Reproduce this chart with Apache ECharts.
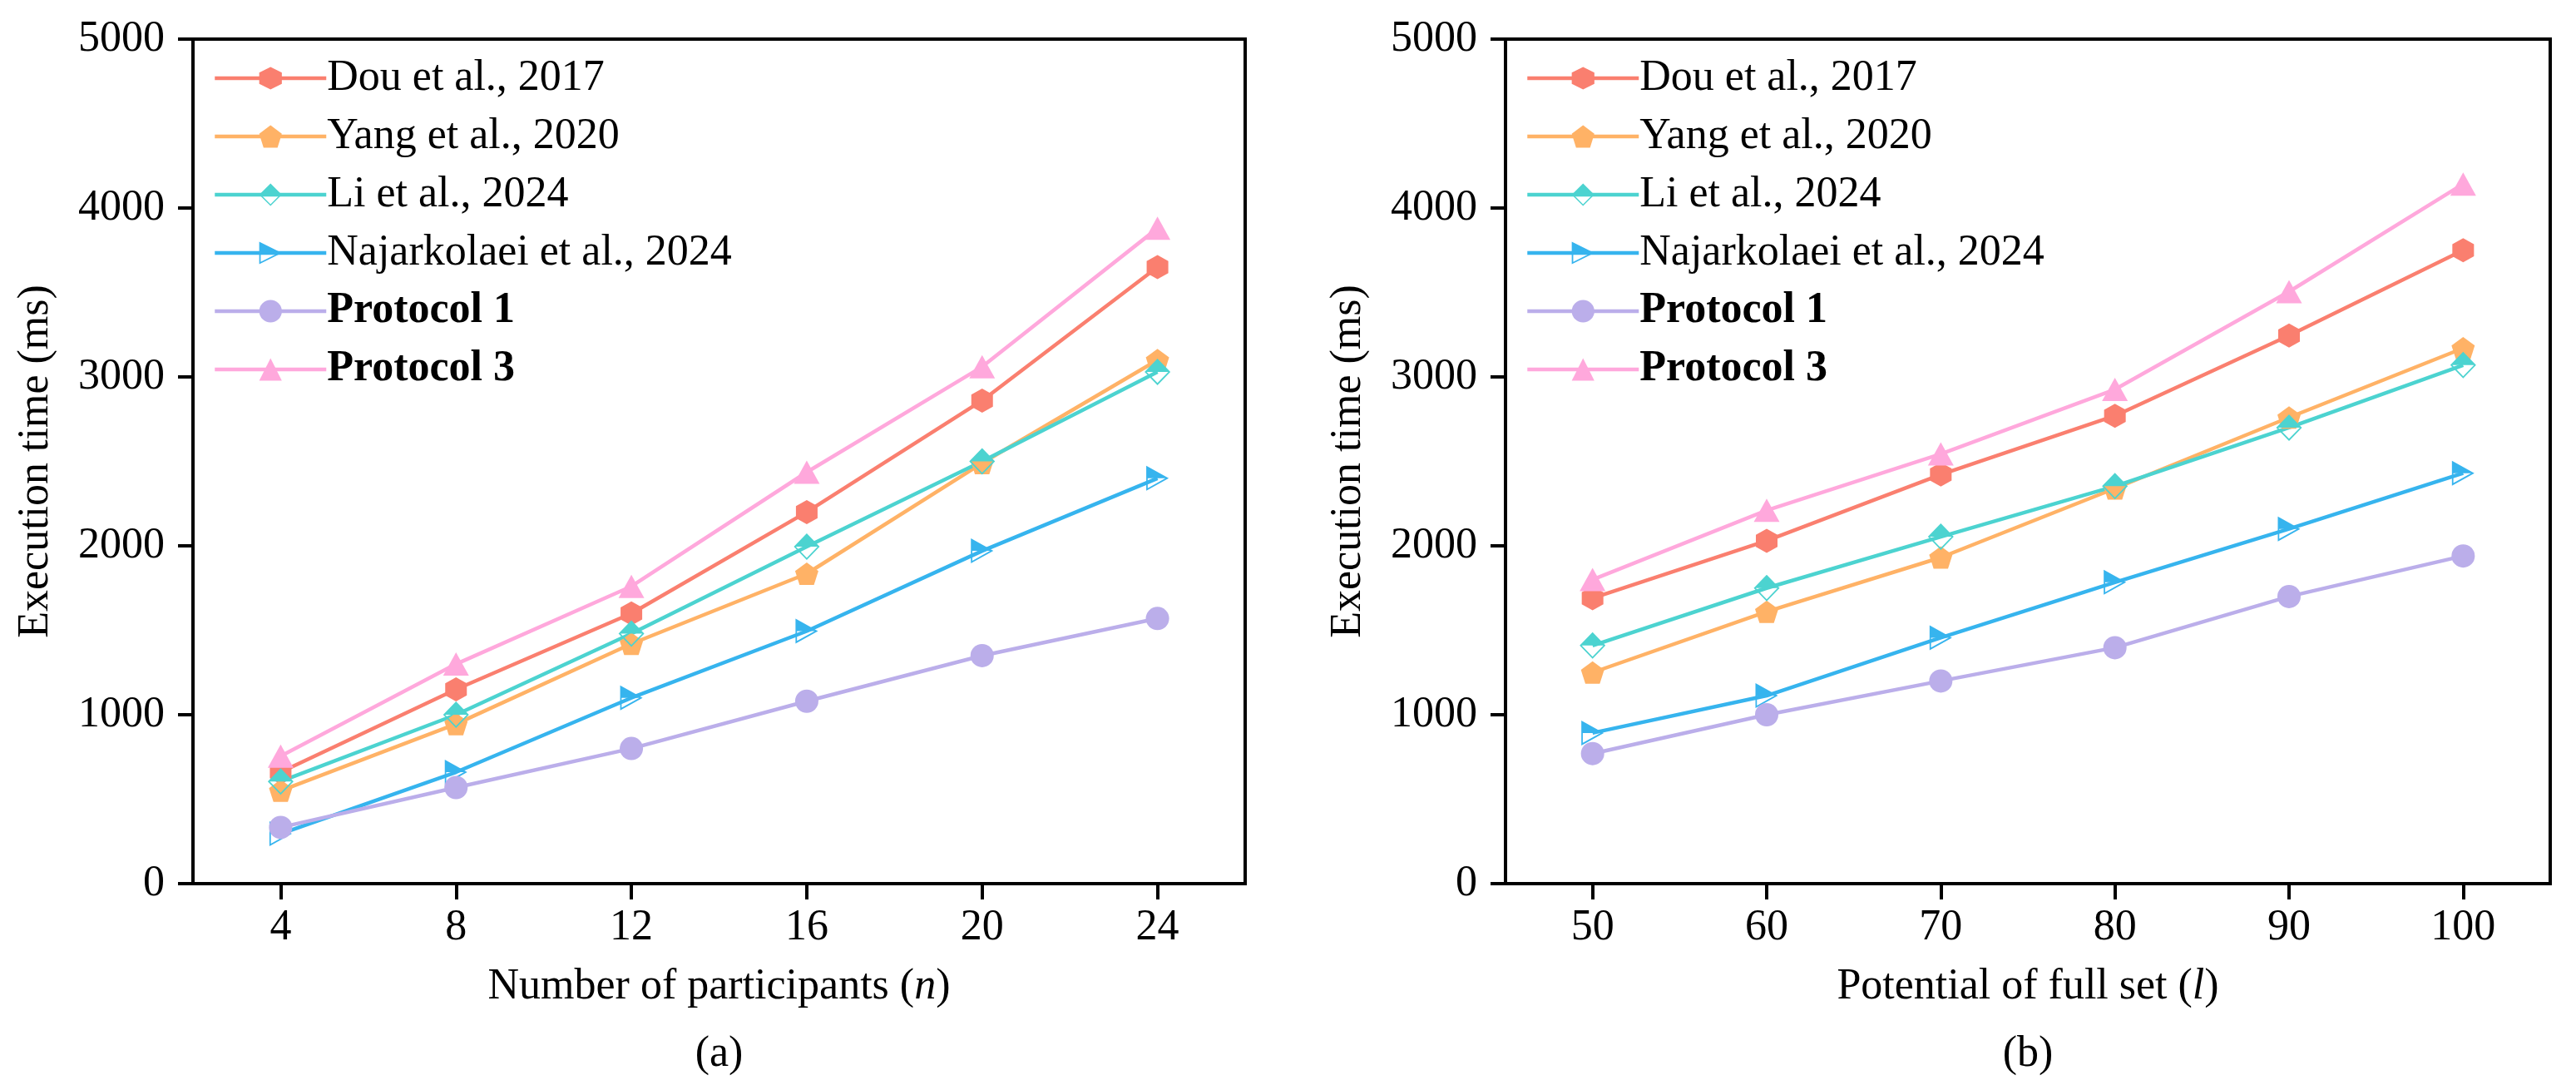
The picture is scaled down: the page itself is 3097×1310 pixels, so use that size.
<!DOCTYPE html>
<html>
<head>
<meta charset="utf-8">
<script src="https://cdn.jsdelivr.net/npm/echarts@6/dist/echarts.min.js"></script>
<style>
html,body{margin:0;padding:0;background:#fff;}
#chart{width:3097px;height:1310px;}
</style>
</head>
<body>
<div id="chart"></div>
<script>
// ---- data ----
const seriesNames = ['Dou et al., 2017', 'Yang et al., 2020', 'Li et al., 2024', 'Najarkolaei et al., 2024', 'Protocol 1', 'Protocol 3'];
const participants = [4, 8, 12, 16, 20, 24];
const dou_a  = [660, 1150, 1600, 2200, 2860, 3650];
const yang_a = [550, 945, 1420, 1835, 2490, 3100];
const li_a   = [605, 1000, 1480, 1995, 2500, 3030];
const naj_a  = [295, 660, 1100, 1495, 1970, 2400];
const p1_a   = [333, 569, 800, 1080, 1350, 1570];
const p3_a   = [755, 1300, 1760, 2436, 3060, 3880];

const fullSet = [50, 60, 70, 80, 90, 100];
const dou_b  = [1690, 2030, 2422, 2770, 3245, 3750];
const yang_b = [1250, 1610, 1931, 2340, 2760, 3170];
const li_b   = [1410, 1750, 2054, 2353, 2700, 3070];
const naj_b  = [892, 1113, 1456, 1784, 2100, 2430];
const p1_b   = [770, 1000, 1200, 1397, 1700, 1940];
const p3_b   = [1800, 2210, 2544, 2926, 3505, 4142];

const yTicks = [0, 1000, 2000, 3000, 4000, 5000];

// ---- styles ----
const FONT = "'Liberation Serif', 'Times New Roman', serif";
const FS = 52;
const colors = ['#FA7F6F', '#FFB266', '#4CD3D0', '#36B4EE', '#BBAEEA', '#FFA8DC'];
const symbols = [
  'path://M0,-1L0.866,-0.5L0.866,0.5L0,1L-0.866,0.5L-0.866,-0.5Z',
  'path://M0,-1L0.951,-0.309L0.588,0.809L-0.588,0.809L-0.951,-0.309Z',
  'path://M0,-1L1,0L0,1L-1,0Z M-0.84,0L0,0.84L0.84,0Z',
  'path://M-1,-1L1,0L-1,1Z M-0.87,0L-0.87,0.79L0.709,0Z',
  'circle',
  'triangle'
];
const symbolSizes = [[26, 29], [28, 27], [31, 32], [27, 30], 28, [31, 28]];
const liFillSymbol = 'path://M0,-1L0,-1Z M-1,0L-1,0Z M1,0L1,0Z M0,1L0,1Z M-0.84,0L0,0.84L0.84,0Z';
const najFillSymbol = 'path://M-1,-1L-1,-1Z M1,0L1,0Z M-1,1L-1,1Z M-0.87,0L-0.87,0.79L0.709,0Z';

const panels = [
  { xs: participants, sets: [dou_a, yang_a, li_a, naj_a, p1_a, p3_a], min: 2, max: 26,
    name: 'Number of participants ({i|n})', tag: '(a)' },
  { xs: fullSet, sets: [dou_b, yang_b, li_b, naj_b, p1_b, p3_b], min: 45, max: 105,
    name: 'Potential of full set ({i|l})', tag: '(b)' }
];
const grids = [
  { left: 232, top: 47, width: 1265, height: 1015 },
  { left: 1810, top: 47, width: 1256, height: 1015 }
];

const axisLineStyle = { color: '#000', width: 4 };
const labelStyle = { fontFamily: FONT, fontSize: FS, color: '#000' };
const xAxes = [], yAxes = [], series = [], legends = [], graphics = [];

panels.forEach((p, gi) => {
  xAxes.push({
    type: 'value', gridIndex: gi, min: p.min, max: p.max,
    name: p.name, nameLocation: 'middle', nameGap: 98,
    nameTextStyle: Object.assign({
      rich: { i: { fontFamily: FONT, fontSize: FS, fontStyle: 'italic', color: '#000' } }
    }, labelStyle),
    axisLine: { show: true, onZero: false, lineStyle: axisLineStyle },
    axisTick: { show: true, inside: false, length: 19, lineStyle: axisLineStyle, customValues: p.xs },
    axisLabel: Object.assign({ margin: 27, customValues: p.xs, formatter: v => String(v) }, labelStyle),
    splitLine: { show: false }
  });
  yAxes.push({
    type: 'value', gridIndex: gi, min: 0, max: 5000, interval: 1000,
    name: 'Execution time (ms)', nameLocation: 'middle', nameGap: 163,
    nameTextStyle: Object.assign({}, labelStyle),
    axisLine: { show: true, onZero: false, lineStyle: axisLineStyle },
    axisTick: { show: true, inside: false, length: 18, lineStyle: axisLineStyle, customValues: yTicks },
    axisLabel: Object.assign({ margin: 34, customValues: yTicks, formatter: v => String(v) }, labelStyle),
    splitLine: { show: false }
  });
  p.sets.forEach((arr, si) => {
    series.push({
      name: seriesNames[si], type: 'line', xAxisIndex: gi, yAxisIndex: gi,
      data: p.xs.map((x, i) => [x, arr[i]]),
      symbol: symbols[si], symbolSize: symbolSizes[si], symbolKeepAspect: false,
      showAllSymbol: true,
      lineStyle: { color: colors[si], width: 4.5 },
      itemStyle: { color: colors[si], borderWidth: 0 },
      emphasis: { disabled: true }, animation: false
    });
    if (si === 2 || si === 3) {
      series.push({
        name: '_fill' + si + '_' + gi, type: 'scatter', xAxisIndex: gi, yAxisIndex: gi,
        data: p.xs.map((x, i) => [x, arr[i]]),
        symbol: si === 2 ? liFillSymbol : najFillSymbol, symbolSize: symbolSizes[si],
        itemStyle: { color: '#ffffff' }, silent: true, animation: false,
        emphasis: { disabled: true }
      });
    }
  });
  legends.push({
    data: seriesNames, orient: 'vertical',
    left: grids[gi].left + 19, top: 63,
    itemWidth: 134, itemHeight: 34, itemGap: 18,
    selectedMode: false,
    lineStyle: { width: 4.5 },
    formatter: n => n.indexOf('Protocol') === 0 ? '{b|' + n + '}' : n,
    textStyle: {
      fontFamily: FONT, fontSize: FS, color: '#000', padding: [0, 0, 0, -4],
      rich: { b: { fontFamily: FONT, fontSize: FS, fontWeight: 'bold', color: '#000' } }
    }
  });
  graphics.push({
    type: 'text', x: grids[gi].left + grids[gi].width / 2, y: 1267,
    style: { text: p.tag, fontFamily: FONT, fontSize: FS, fill: '#000', textAlign: 'center', textVerticalAlign: 'middle' }
  });
});

const chart = echarts.init(document.getElementById('chart'), null, { renderer: 'canvas' });
chart.setOption({
  backgroundColor: '#fff',
  animation: false,
  textStyle: { fontFamily: FONT },
  grid: grids.map(g => Object.assign({ show: true, borderColor: '#000', borderWidth: 4, backgroundColor: 'transparent' }, g)),
  xAxis: xAxes,
  yAxis: yAxes,
  legend: legends,
  series: series,
  graphic: graphics
});
</script>
</body>
</html>
